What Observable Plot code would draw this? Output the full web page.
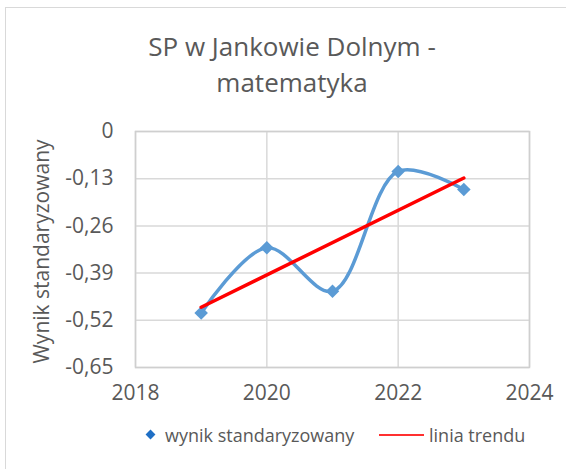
<!DOCTYPE html>
<html><head><meta charset="utf-8">
<script src="https://cdn.jsdelivr.net/npm/d3@7"></script>
<script src="https://cdn.jsdelivr.net/npm/@observablehq/plot@0.6"></script>
<style>
body{margin:0;background:#fff;font-family:"Open Sans",sans-serif;color:#595959}
#wrap{position:relative;width:566px;height:469px;overflow:hidden;background:#fff}
#box{position:absolute;left:5px;top:7px;width:700px;height:700px;border-left:1.5px solid #d9d9d9;border-top:1.5px solid #d9d9d9}
#title{position:absolute;left:0;width:584px;top:28px;text-align:center;font-size:26px;line-height:36px;color:#595959}
#chart{position:absolute;left:0;top:100px}
.lg{position:absolute;top:423px;font-size:18px;line-height:24px;color:#595959;white-space:nowrap}
#dia{position:absolute;left:147px;top:431px;width:7px;height:7px;background:#1f6fc5;transform:rotate(45deg)}
#rl{position:absolute;left:379px;top:434px;width:45px;height:0;border-top:2px solid #ff3030}
</style></head>
<body>
<div id="wrap">
  <div id="box"></div>
  <div id="title">SP w Jankowie Dolnym -<br>matematyka</div>
  <div id="chart"></div>
  <div id="dia"></div>
  <span class="lg" style="left:165px">wynik standaryzowany</span>
  <div id="rl"></div>
  <span class="lg" style="left:429px">linia trendu</span>
</div>
<script>
const years = [2019, 2020, 2021, 2022, 2023];
const values = [-0.50, -0.32, -0.44, -0.11, -0.16];
const yTicks = [0, -0.13, -0.26, -0.39, -0.52, -0.65];
const xTicks = [2018, 2020, 2022, 2024];
const yLabel = "Wynik standaryzowany";

const data = years.map((y, i) => ({year: y, value: values[i]}));
const fmt = d => d === 0 ? "0" : d.toFixed(2).replace(".", ",");

const chart = Plot.plot({
  width: 566,
  height: 310,
  marginLeft: 135,
  marginRight: 37,
  marginTop: 31,
  marginBottom: 43,
  style: {fontFamily: "'Open Sans', sans-serif", fontSize: "21px", color: "#595959", background: "transparent", overflow: "visible"},
  x: {domain: [2018, 2024], ticks: xTicks, tickFormat: d => String(d), label: null},
  y: {domain: [-0.65, 0], ticks: yTicks, tickFormat: fmt, label: null},
  marks: [
    Plot.gridX(xTicks, {stroke: "#d9d9d9", strokeOpacity: 1, strokeWidth: 1.5}),
    Plot.gridY(yTicks, {stroke: "#d9d9d9", strokeOpacity: 1, strokeWidth: 1.5}),
    Plot.frame({stroke: "#cfcfcf", strokeWidth: 1.5}),
    Plot.axisX(xTicks, {tickSize: 0, tickPadding: 18, tickFormat: d => String(d), label: null, fontSize: 21, fill: "#595959"}),
    Plot.axisY(yTicks, {tickSize: 0, tickPadding: 22, tickFormat: fmt, label: null, fontSize: 21, fill: "#595959"}),
    Plot.text([yLabel], {text: d => d, frameAnchor: "left", textAnchor: "middle", rotate: -90, dx: -93, dy: 2, fontSize: 21, fill: "#595959"}),
    Plot.line(data, {x: "year", y: "value", curve: "catmull-rom", stroke: "#5b9bd5", strokeWidth: 3.5}),
    Plot.dot(data, {x: "year", y: "value", symbol: "square", rotate: 45, r: 5.4, fill: "#5b9bd5", stroke: "none"}),
    Plot.linearRegressionY(data, {x: "year", y: "value", ci: 0, stroke: "#ff0000", strokeWidth: 3.5})
  ]
});
document.getElementById("chart").appendChild(chart);
</script>
</body></html>
